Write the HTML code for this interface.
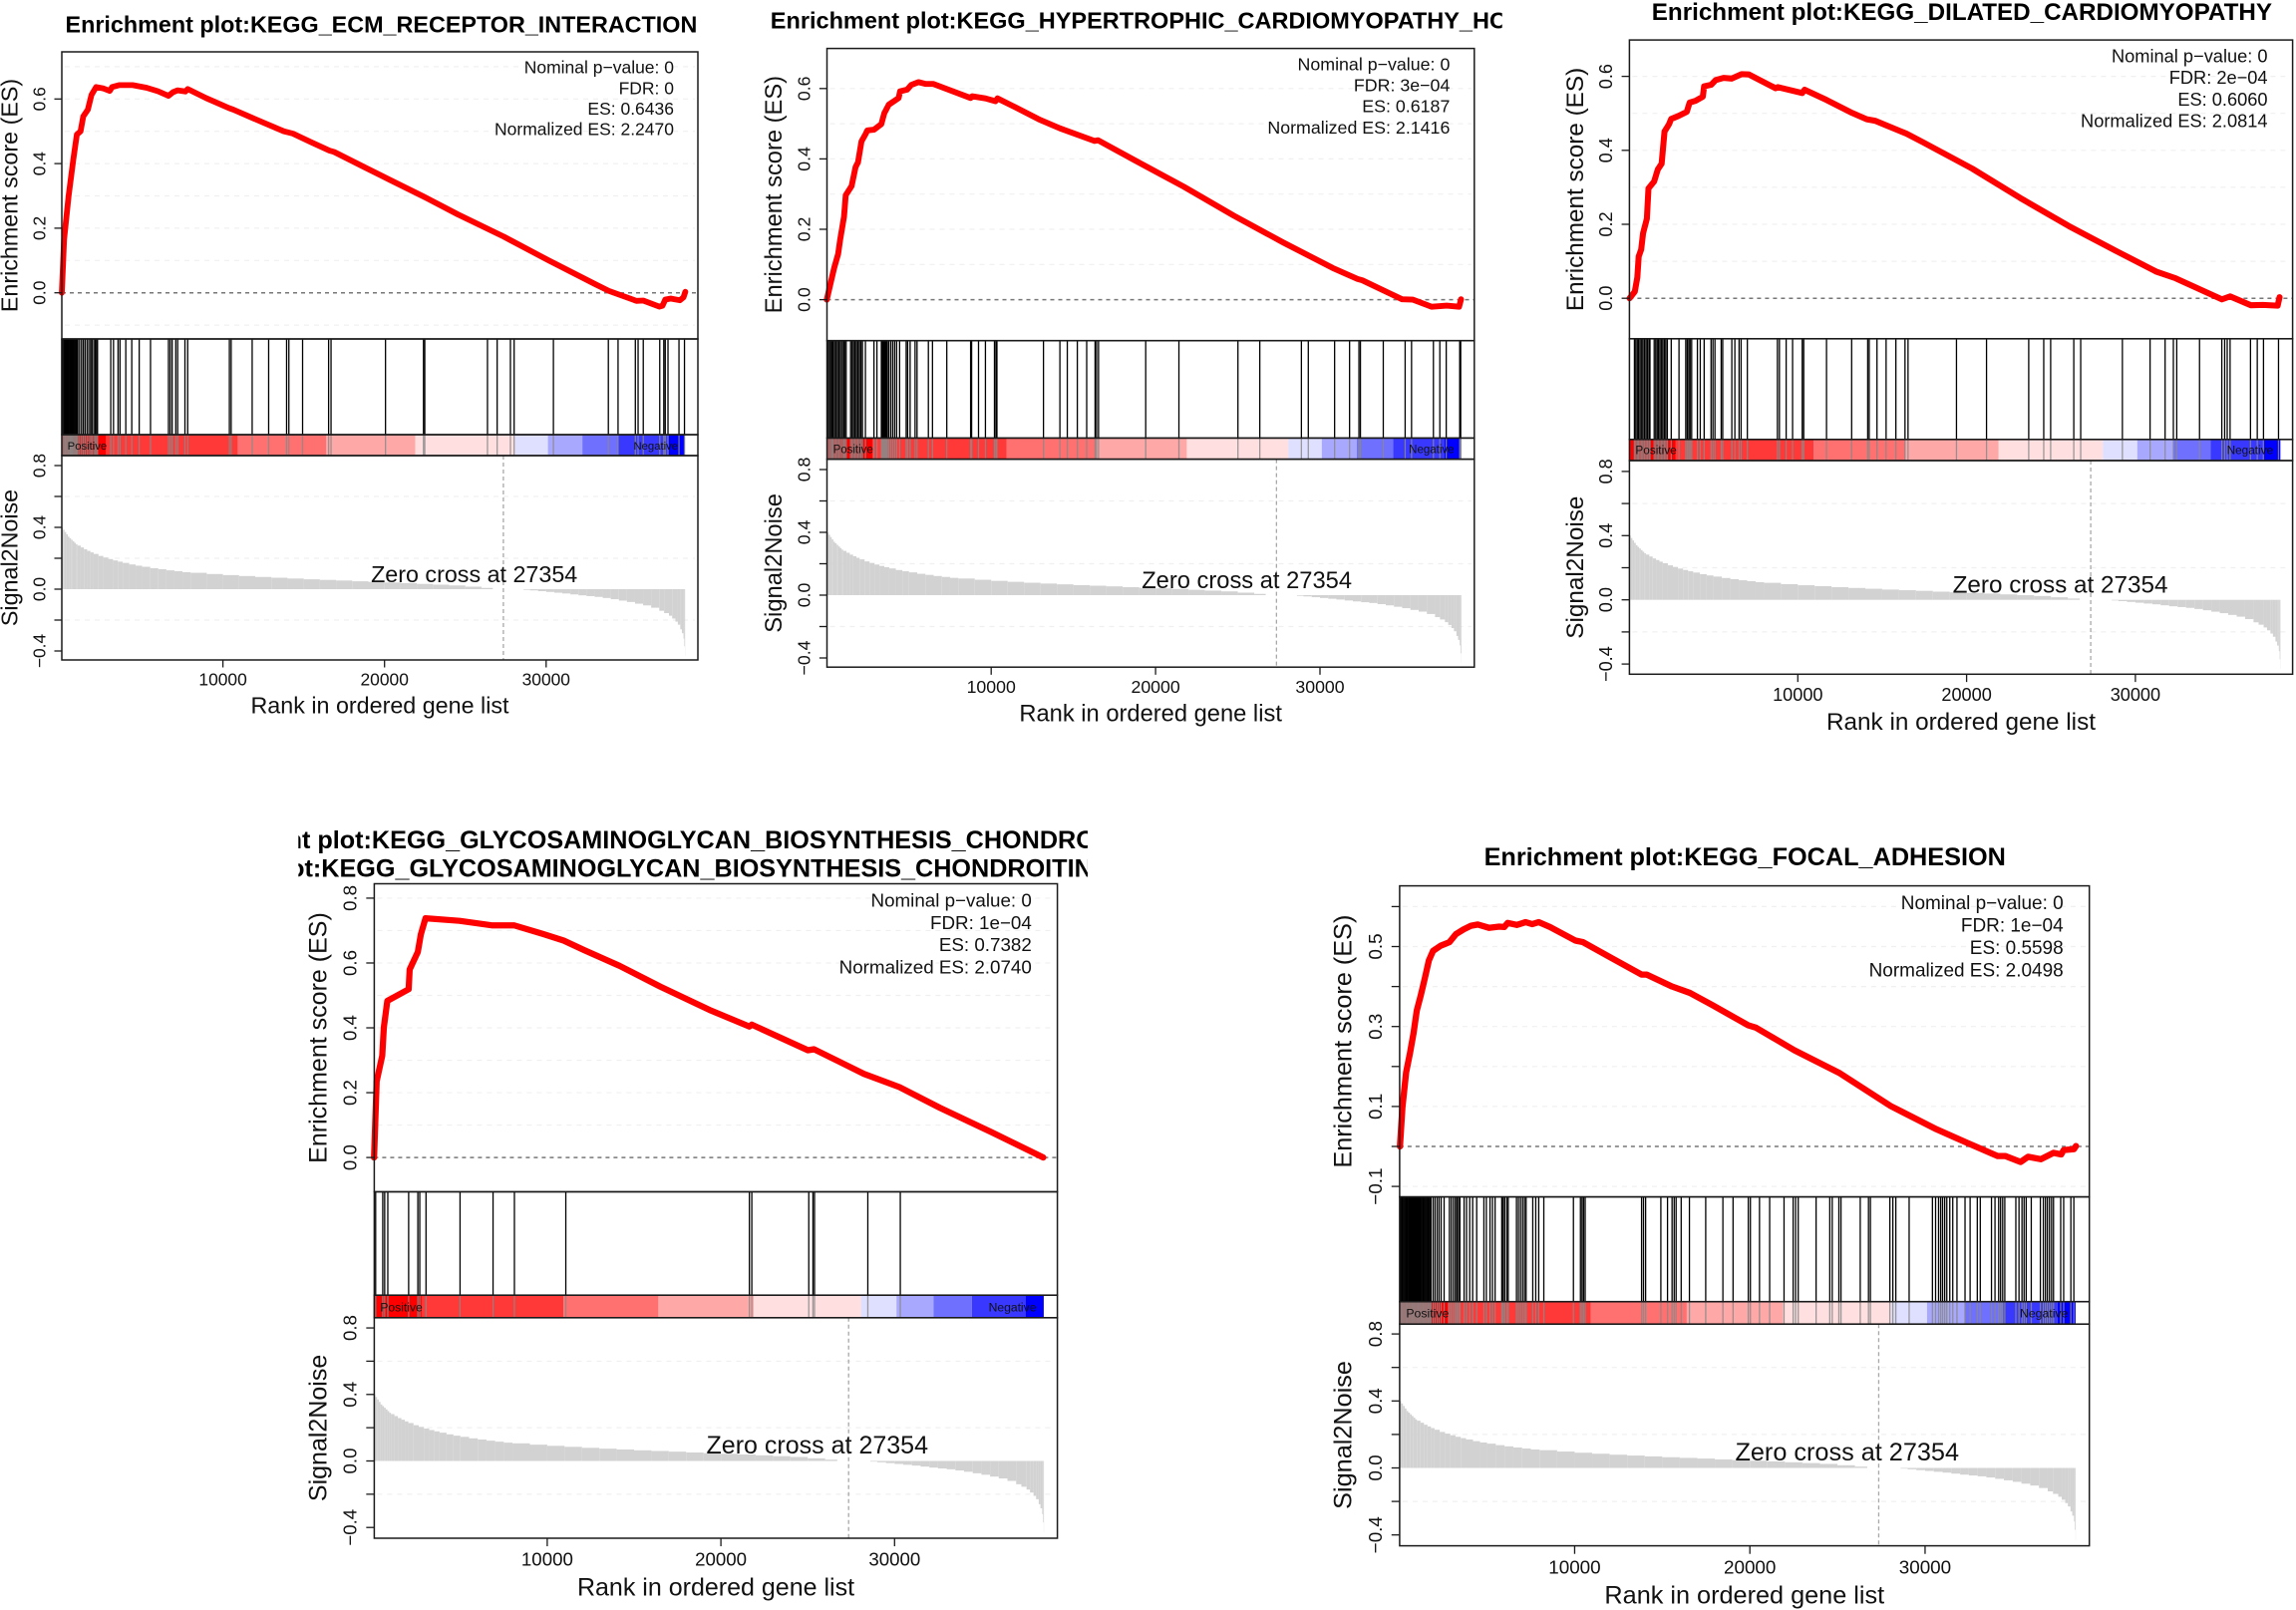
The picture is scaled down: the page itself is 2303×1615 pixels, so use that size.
<!DOCTYPE html>
<html>
<head>
<meta charset="utf-8">
<title>GSEA enrichment plots</title>
<style>
html,body{margin:0;padding:0;background:#fff;}
svg{display:block;}
text{font-family:"Liberation Sans",Arial,sans-serif;fill:#111;}
.title{font-weight:bold;fill:#000;}
</style>
</head>
<body>
<svg id="figure" xmlns="http://www.w3.org/2000/svg" width="2303" height="1615" viewBox="0 0 2303 1615">
<defs>
<clipPath id="clip-title-2"><rect x="700" y="0" width="806.7" height="46"/></clipPath>
<clipPath id="clip-title-4"><rect x="299.3" y="825" width="791.7" height="60"/></clipPath>
</defs>
<rect x="0" y="0" width="2303" height="1615" fill="#fff"/>

<g id="panel-1">
<text class="title" x="65.5" y="32.7" font-size="23.35">Enrichment plot:KEGG_ECM_RECEPTOR_INTERACTION</text>
<text class="stat">Nominal p−value: 0</text>
<text class="stat">FDR: 0</text>
<text class="stat">ES: 0.6436</text>
<text class="stat">Normalized ES: 2.2470</text>
<text class="ylab-es">Enrichment score (ES)</text>
<text class="ylab-s2n">Signal2Noise</text>
<text class="xlab">Rank in ordered gene list</text>
<text class="zero">Zero cross at 27354</text>
<text class="pos">Positive</text>
<text class="neg">Negative</text>
</g>

<g id="panel-2">
<g clip-path="url(#clip-title-2)"><text class="title" x="772.8" y="28.3" font-size="23.5">Enrichment plot:KEGG_HYPERTROPHIC_CARDIOMYOPATHY_HCM</text></g>
<text class="stat">Nominal p−value: 0</text>
<text class="stat">FDR: 3e−04</text>
<text class="stat">ES: 0.6187</text>
<text class="stat">Normalized ES: 2.1416</text>
<text class="ylab-es">Enrichment score (ES)</text>
<text class="ylab-s2n">Signal2Noise</text>
<text class="xlab">Rank in ordered gene list</text>
<text class="zero">Zero cross at 27354</text>
<text class="pos">Positive</text>
<text class="neg">Negative</text>
</g>

<g id="panel-3">
<text class="title" x="1656.8" y="19.8" font-size="24.2">Enrichment plot:KEGG_DILATED_CARDIOMYOPATHY</text>
<text class="stat">Nominal p−value: 0</text>
<text class="stat">FDR: 2e−04</text>
<text class="stat">ES: 0.6060</text>
<text class="stat">Normalized ES: 2.0814</text>
<text class="ylab-es">Enrichment score (ES)</text>
<text class="ylab-s2n">Signal2Noise</text>
<text class="xlab">Rank in ordered gene list</text>
<text class="zero">Zero cross at 27354</text>
<text class="pos">Positive</text>
<text class="neg">Negative</text>
</g>

<g id="panel-4">
<g clip-path="url(#clip-title-4)">
<text class="title" x="172.8" y="851" font-size="25.2">Enrichment plot:KEGG_GLYCOSAMINOGLYCAN_BIOSYNTHESIS_CHONDROITIN_SULFATE</text>
<text class="title" x="122.2" y="879.3" font-size="25.2">Enrichment plot:KEGG_GLYCOSAMINOGLYCAN_BIOSYNTHESIS_CHONDROITIN_SULFATE</text>
</g>
<text class="stat">Nominal p−value: 0</text>
<text class="stat">FDR: 1e−04</text>
<text class="stat">ES: 0.7382</text>
<text class="stat">Normalized ES: 2.0740</text>
<text class="ylab-es">Enrichment score (ES)</text>
<text class="ylab-s2n">Signal2Noise</text>
<text class="xlab">Rank in ordered gene list</text>
<text class="zero">Zero cross at 27354</text>
<text class="pos">Positive</text>
<text class="neg">Negative</text>
</g>

<g id="panel-5">
<text class="title" x="1488.6" y="868" font-size="25.26">Enrichment plot:KEGG_FOCAL_ADHESION</text>
<text class="stat">Nominal p−value: 0</text>
<text class="stat">FDR: 1e−04</text>
<text class="stat">ES: 0.5598</text>
<text class="stat">Normalized ES: 2.0498</text>
<text class="ylab-es">Enrichment score (ES)</text>
<text class="ylab-s2n">Signal2Noise</text>
<text class="xlab">Rank in ordered gene list</text>
<text class="zero">Zero cross at 27354</text>
<text class="pos">Positive</text>
<text class="neg">Negative</text>
</g>
</svg>

<script>
// ---- Data ----
const rankTicks = [10000, 20000, 30000];
const rankTickLabels = ["10000", "20000", "30000"];
const zeroCrossRank = 27354;
const zeroCrossLabelRank = 25550;
const lastRank = 38590;

const s2nTicks = [-0.4, -0.2, 0, 0.2, 0.4, 0.6, 0.8];
const s2nLabelValues = [-0.4, 0, 0.4, 0.8];
const s2nLabels = ["−0.4", "0.0", "0.4", "0.8"];
const s2nGrid = [-0.2, 0.2, 0.6];

const s2nRanks = [0,100,200,300,400,500,600,700,800,900,1000,1200,1400,1600,1800,2000,2300,2600,2900,3200,3500,3800,4200,4600,5000,5500,6000,6500,7000,7500,8000,9000,10000,11000,12000,13000,14000,15000,16000,17000,18000,19000,20000,21000,22000,23000,24000,25000,26000,26700,27354,28600,29000,29500,30000,30500,31000,31500,32000,32500,33000,33500,34000,34500,35000,35500,36000,36500,37000,37300,37600,37800,38000,38150,38300,38400,38500,38550,38590];
const s2nValues = [0.40,0.385,0.37,0.355,0.34,0.33,0.32,0.31,0.30,0.29,0.282,0.27,0.258,0.248,0.238,0.228,0.215,0.205,0.195,0.186,0.178,0.17,0.16,0.152,0.145,0.136,0.129,0.122,0.116,0.11,0.106,0.098,0.091,0.085,0.079,0.074,0.069,0.064,0.06,0.056,0.051,0.047,0.043,0.039,0.034,0.029,0.024,0.016,0.008,0,0,-0.004,-0.008,-0.013,-0.018,-0.023,-0.028,-0.034,-0.04,-0.045,-0.05,-0.057,-0.065,-0.074,-0.083,-0.094,-0.105,-0.12,-0.14,-0.155,-0.172,-0.19,-0.21,-0.23,-0.26,-0.285,-0.32,-0.37,-0.43];

const colorBreaks = [0,2770,10930,16400,21900,28070,30110,32240,34450,37560,38590];
const colorBins = ["#ff0000","#ff3838","#ff7070","#ffa8a8","#ffdfdf","#dfdfff","#a8a8ff","#7070ff","#3838ff","#0000ff"];

// Panel 1
const es1Ranks = [30,170,450,740,960,1190,1360,1640,1870,2150,2580,3000,3140,3570,4420,5270,5980,6630,6910,7200,7680,7820,8950,10370,10650,12070,13770,14330,15470,16600,16880,18870,20280,22410,22690,24530,27370,30200,33030,33880,35580,36010,37000,37200,37370,37710,38270,38500,38610];
const es1Scores = [0,0.166,0.299,0.412,0.490,0.500,0.546,0.567,0.613,0.637,0.633,0.625,0.637,0.643,0.643,0.635,0.624,0.610,0.621,0.627,0.623,0.631,0.603,0.572,0.567,0.536,0.500,0.493,0.466,0.440,0.436,0.386,0.351,0.298,0.291,0.243,0.174,0.099,0.027,0.006,-0.025,-0.024,-0.043,-0.040,-0.021,-0.018,-0.023,-0.014,0.003];
const hits1 = [30,90,170,230,280,340,400,450,510,560,600,640,680,730,790,850,910,960,1020,1130,1250,1360,1470,1590,1700,1810,1900,2010,2100,2180,2240,3060,3230,3510,3630,3990,4360,4820,5520,6630,6740,6860,7080,7200,7650,7820,10400,10510,11810,12830,13940,14080,14930,16540,16690,20060,22410,22490,26370,26970,27790,28020,30450,33850,34450,35520,35690,36010,37030,37280,37370,37540,38220,38560];
const esTicks1 = [0,0.2,0.4,0.6];
const esTickLabels1 = ["0.0","0.2","0.4","0.6"];
const esLabelValues1 = [0,0.2,0.4,0.6];
const esGrid1 = [-0.1,0.1,0.2,0.3,0.4,0.5,0.6,0.7];

// Panel 2
const es2Ranks = [0,240,450,690,810,1050,1150,1510,1750,1900,2110,2350,2470,2870,3320,3500,3770,4370,4460,4890,5130,5580,6030,6490,7390,8750,8840,9650,10260,10380,11460,12970,14180,16290,16500,18700,21720,24740,27750,30770,32280,32580,34990,35660,36800,37710,38460,38580];
const es2Scores = [0,0.049,0.090,0.130,0.170,0.236,0.297,0.323,0.377,0.390,0.450,0.470,0.481,0.483,0.499,0.530,0.554,0.573,0.592,0.597,0.610,0.618,0.613,0.613,0.597,0.573,0.578,0.572,0.564,0.572,0.547,0.511,0.487,0.451,0.453,0.397,0.321,0.239,0.163,0.090,0.059,0.055,0.001,0,-0.020,-0.017,-0.020,0.001];
const hits2 = [90,180,270,330,390,480,570,660,750,840,940,1030,1090,1180,1450,1540,1630,1720,1810,1900,1990,2080,2170,2350,2870,3050,3320,3380,3440,3500,3560,3620,3680,3770,3890,4010,4130,4250,4430,4830,4920,5070,5370,5490,6180,6430,7300,8750,8810,9230,9650,10200,10290,10350,13180,14180,14630,15240,15810,16320,16410,16530,19400,21420,25010,26340,28870,29290,30890,31800,32370,32460,33850,35180,35570,36900,37290,37680,38500,38560];
const esTicks2 = [0,0.2,0.4,0.6];
const esTickLabels2 = ["0.0","0.2","0.4","0.6"];
const esLabelValues2 = [0,0.2,0.4,0.6];
const esGrid2 = [0.1,0.2,0.3,0.4,0.5,0.6];

// Panel 3
const es3Ranks = [30,340,490,570,720,830,1060,1150,1490,1700,1930,2100,2360,2500,2930,3420,3590,3940,4370,4450,4860,5140,5600,6090,6670,7100,8680,8820,10260,10400,11700,13130,14080,14570,16440,17450,20320,23190,26070,28940,31240,32390,35120,35610,36840,37560,38430,38540];
const es3Scores = [0,0.018,0.056,0.113,0.132,0.176,0.215,0.297,0.316,0.348,0.364,0.451,0.470,0.485,0.493,0.504,0.529,0.534,0.545,0.573,0.577,0.590,0.596,0.594,0.606,0.605,0.568,0.571,0.555,0.564,0.536,0.503,0.484,0.480,0.445,0.421,0.351,0.271,0.195,0.126,0.072,0.054,-0.003,0.005,-0.019,-0.018,-0.020,0.003];
const hits3 = [320,400,490,570,660,750,830,920,1010,1090,1180,1240,1490,1580,1670,1750,1840,1930,2010,2100,2180,2270,2500,2960,3360,3450,3540,3620,3710,4050,4220,4450,4860,4970,5090,5460,5550,6090,6270,6520,6640,7010,8790,8910,9310,9690,10260,10350,11700,13190,14140,14230,14690,15230,15810,16350,16530,19400,21180,23680,24570,24980,26350,26760,29230,30870,31760,32250,32450,33800,35120,35290,35440,35610,36820,37220,37590,38480];
const esTicks3 = [0,0.2,0.4,0.6];
const esTickLabels3 = ["0.0","0.2","0.4","0.6"];
const esLabelValues3 = [0,0.2,0.4,0.6];
const esGrid3 = [0.1,0.2,0.3,0.4,0.5,0.6];

// Panel 4
const es4Ranks = [30,180,500,590,790,2020,2080,2550,2720,2990,4950,6850,8110,9780,10950,12120,14170,16510,19440,21640,21780,25010,25360,26760,28230,30280,32620,35550,38560];
const es4Scores = [0,0.235,0.314,0.401,0.483,0.519,0.580,0.634,0.688,0.738,0.730,0.716,0.716,0.689,0.669,0.640,0.591,0.527,0.453,0.404,0.410,0.331,0.334,0.297,0.258,0.217,0.153,0.079,0];
const hits4 = [120,530,640,820,2020,2550,2660,3020,4980,6880,8110,11070,21640,21780,25060,25300,25390,28460,30330];
const esTicks4 = [0,0.2,0.4,0.6,0.8];
const esTickLabels4 = ["0.0","0.2","0.4","0.6","0.8"];
const esLabelValues4 = [0,0.2,0.4,0.6,0.8];
const esGrid4 = [0.1,0.2,0.3,0.4,0.5,0.6,0.7,0.8];

// Panel 5
const es5Ranks = [30,170,380,610,810,990,1220,1450,1680,1920,2350,2850,3220,3660,4090,4470,5110,5690,5980,6180,6710,7200,7580,7950,8590,10040,10480,12080,13820,14110,15560,16580,17880,19910,20350,22530,25140,28040,30650,32400,34140,34570,35450,35880,36610,37330,37770,37910,38490,38610];
const es5Scores = [0,0.098,0.185,0.235,0.284,0.340,0.378,0.421,0.465,0.489,0.502,0.511,0.531,0.543,0.552,0.555,0.547,0.550,0.549,0.559,0.554,0.561,0.556,0.561,0.549,0.515,0.511,0.472,0.430,0.430,0.400,0.384,0.353,0.303,0.297,0.241,0.183,0.101,0.043,0.009,-0.024,-0.024,-0.039,-0.026,-0.032,-0.016,-0.020,-0.009,-0.007,0.001];
const hits5 = [60,120,170,230,290,350,410,460,520,580,640,700,750,810,870,930,990,1050,1100,1160,1220,1280,1340,1390,1450,1510,1570,1630,1680,1740,1800,1920,2030,2150,2260,2380,2550,2850,2960,3080,3190,3280,3370,3450,3690,3830,4010,4180,4410,4820,4960,5170,5310,5460,5840,5920,6010,6130,6210,6680,6790,6910,7030,7140,7230,7610,7780,7950,8240,9930,10330,10420,10510,10600,13820,13930,14050,14920,15300,15560,15680,15790,16080,16550,17480,18460,19040,19910,20030,20550,21130,21950,22470,22610,22760,23780,24560,24700,25080,25200,26300,26770,26880,27990,28160,28330,29090,30420,30600,30770,30890,31000,31120,31240,31410,31580,31820,32280,32570,32980,33150,33790,33990,34200,34310,34430,34550,35180,35360,35530,35650,35770,36060,36580,36750,36870,36980,37100,37220,37330,37740,37910,38320,38490];
const esTicks5 = [-0.1,0,0.1,0.2,0.3,0.4,0.5,0.6];
const esTickLabels5 = ["−0.1","0.1","0.3","0.5"];
const esLabelValues5 = [-0.1,0.1,0.3,0.5];
const esGrid5 = [-0.1,0.1,0.2,0.3,0.4,0.5,0.6];

// ---- Layout (pixels) ----
const layouts = [
 {left:62,right:700,top:52,esBottom:340,hitBottom:436,barBottom:457,bottom:662,x0:61.5,xPer10k:162.1,esZero:293.7,esUnit:324,s2nZero:591,s2nUnit:155},
 {left:829.5,right:1478.8,top:48.6,esBottom:341.7,hitBottom:439.4,barBottom:460.6,bottom:669.2,x0:829.3,xPer10k:164.9,esZero:300.6,esUnit:353,s2nZero:597,s2nUnit:157.5},
 {left:1634.4,right:2299.6,top:40.1,esBottom:339.8,hitBottom:440.8,barBottom:462,bottom:676.3,x0:1634,xPer10k:169.3,esZero:299.2,esUnit:371,s2nZero:601.7,s2nUnit:161},
 {left:375.4,right:1060.6,top:886.5,esBottom:1195.5,hitBottom:1299.2,barBottom:1321.8,bottom:1543,x0:374.7,xPer10k:174.2,esZero:1161.1,esUnit:325.2,s2nZero:1465.5,s2nUnit:166.8},
 {left:1403.9,right:2095.7,top:888.6,esBottom:1200.6,hitBottom:1305.7,barBottom:1328.2,bottom:1550.6,x0:1403.7,xPer10k:175.75,esZero:1150,esUnit:401,s2nZero:1472.5,s2nUnit:168}
];
const esRanksAll = [es1Ranks,es2Ranks,es3Ranks,es4Ranks,es5Ranks];
const esScoresAll = [es1Scores,es2Scores,es3Scores,es4Scores,es5Scores];
const hitsAll = [hits1,hits2,hits3,hits4,hits5];
const esTicksAll = [esTicks1,esTicks2,esTicks3,esTicks4,esTicks5];
const esLabelValuesAll = [esLabelValues1,esLabelValues2,esLabelValues3,esLabelValues4,esLabelValues5];
const esTickLabelsAll = [esTickLabels1,esTickLabels2,esTickLabels3,esTickLabels4,esTickLabels5];
const esGridAll = [esGrid1,esGrid2,esGrid3,esGrid4,esGrid5];

const NS = "http://www.w3.org/2000/svg";
function make(tag, attrs) {
  const el = document.createElementNS(NS, tag);
  for (const k in attrs) el.setAttribute(k, attrs[k]);
  return el;
}
function placeText(el, x, y, size, anchor, rotate) {
  el.setAttribute("x", x);
  el.setAttribute("y", y);
  el.setAttribute("font-size", size);
  el.setAttribute("text-anchor", anchor);
  if (rotate) el.setAttribute("transform", "rotate(-90 " + x + " " + y + ")");
}

function drawPanel(i) {
  const L = layouts[i];
  const root = document.getElementById("panel-" + (i + 1));
  const s = (L.right - L.left) / 638;
  const xScale = r => L.x0 + r / 10000 * L.xPer10k;
  const esY = v => L.esZero - v * L.esUnit;
  const s2nY = v => L.s2nZero - v * L.s2nUnit;
  const marks = make("g", {});
  
  
  root.insertBefore(marks, root.firstChild);

  // colour bar
  for (let c = 0; c < colorBins.length; c++) {
    const x1 = xScale(colorBreaks[c]), x2 = xScale(colorBreaks[c + 1]);
    const seg = make("rect", {x:x1, y:L.hitBottom, width:x2 - x1, height:L.barBottom - L.hitBottom, fill:colorBins[c]});
    
    
    marks.appendChild(seg);
  }

  // ES grid
  esGridAll[i].forEach(v => {
    const g = make("line", {x1:L.left + 3, x2:L.right - 3, y1:esY(v), y2:esY(v), stroke:"#f0f0f0", "stroke-width":1.2, "stroke-dasharray":"5 5"});
    
    
    marks.appendChild(g);
  });
  // S2N grid
  s2nGrid.forEach(v => {
    const g = make("line", {x1:L.left + 3, x2:L.right - 3, y1:s2nY(v), y2:s2nY(v), stroke:"#f0f0f0", "stroke-width":1.2, "stroke-dasharray":"5 5"});
    
    
    marks.appendChild(g);
  });

  // ES zero line
  const zeroLine = make("line", {x1:L.left, x2:L.right, y1:esY(0), y2:esY(0), stroke:"#777", "stroke-width":1.5, "stroke-dasharray":"4 4"});
  
  
  marks.appendChild(zeroLine);

  // hit lines
  hitsAll[i].forEach(r => {
    const h = make("line", {x1:xScale(r), x2:xScale(r), y1:L.esBottom, y2:L.hitBottom, stroke:"#000", "stroke-width":1.3});
    
    
    marks.appendChild(h);
    const o = make("line", {x1:xScale(r), x2:xScale(r), y1:L.hitBottom, y2:L.barBottom, stroke:"#8a8a8a", "stroke-width":1.3, "stroke-opacity":0.85});
    
    
    marks.appendChild(o);
  });

  // S2N bars
  for (let k = 0; k < s2nRanks.length; k++) {
    const v = s2nValues[k];
    const r2 = k + 1 < s2nRanks.length ? s2nRanks[k + 1] : lastRank + 10;
    const x1 = xScale(s2nRanks[k]), x2 = xScale(r2);
    const y1 = Math.min(s2nY(v), s2nY(0)), y2 = Math.max(s2nY(v), s2nY(0));
    const b = make("rect", {x:x1, y:y1, width:x2 - x1, height:y2 - y1, fill:"#d2d2d2"});
    
    
    marks.appendChild(b);
  }

  // zero-cross line
  const zc = make("line", {x1:xScale(zeroCrossRank), x2:xScale(zeroCrossRank), y1:L.barBottom, y2:L.bottom, stroke:"#a8a8a8", "stroke-width":1.3, "stroke-dasharray":"4 3"});
  
  
  marks.appendChild(zc);

  // ES curve
  const ranks = esRanksAll[i], scores = esScoresAll[i];
  let d = "";
  for (let k = 0; k < ranks.length; k++) d += (k ? "L" : "M") + xScale(ranks[k]).toFixed(1) + " " + esY(scores[k]).toFixed(1);
  const curve = make("path", {d:d, fill:"none", stroke:"#ff0000", "stroke-width":5.8 * s, "stroke-linejoin":"round", "stroke-linecap":"round"});
  
  
  marks.appendChild(curve);

  // frames
  [[L.top, L.esBottom], [L.esBottom, L.hitBottom], [L.hitBottom, L.barBottom], [L.barBottom, L.bottom]].forEach(f => {
    const fr = make("rect", {x:L.left, y:f[0], width:L.right - L.left, height:f[1] - f[0], fill:"none", stroke:"#1a1a1a", "stroke-width":1.5});
    
    
    marks.appendChild(fr);
  });

  const tickLen = 7.5 * s, tickFont = 17.4 * s;

  // x axis
  rankTicks.forEach((r, k) => {
    const t = make("line", {x1:xScale(r), x2:xScale(r), y1:L.bottom, y2:L.bottom + tickLen, stroke:"#1a1a1a", "stroke-width":1.3});
    
    
    marks.appendChild(t);
    const lab = make("text", {});
    
    
    lab.textContent = rankTickLabels[k];
    placeText(lab, xScale(r), L.bottom + 25.5 * s, tickFont, "middle", false);
    marks.appendChild(lab);
  });

  // ES axis
  esTicksAll[i].forEach(v => {
    const t = make("line", {x1:L.left - tickLen, x2:L.left, y1:esY(v), y2:esY(v), stroke:"#1a1a1a", "stroke-width":1.3});
    
    
    marks.appendChild(t);
  });
  esLabelValuesAll[i].forEach((v, k) => {
    const lab = make("text", {});
    
    
    lab.textContent = esTickLabelsAll[i][k];
    placeText(lab, L.left - 16.5 * s, esY(v), tickFont, "middle", true);
    marks.appendChild(lab);
  });

  // S2N axis
  s2nTicks.forEach(v => {
    const t = make("line", {x1:L.left - tickLen, x2:L.left, y1:s2nY(v), y2:s2nY(v), stroke:"#1a1a1a", "stroke-width":1.3});
    
    
    marks.appendChild(t);
  });
  s2nLabelValues.forEach((v, k) => {
    const lab = make("text", {});
    
    
    lab.textContent = s2nLabels[k];
    placeText(lab, L.left - 16.5 * s, s2nY(v), tickFont, "middle", true);
    marks.appendChild(lab);
  });

  // static text placement
  root.querySelectorAll(".stat").forEach((el, k) => {
    placeText(el, L.right - 24 * s, L.top + 21.6 * s + k * 20.7 * s, 17.5 * s, "end", false);
  });
  const axisFont = 23.3 * s, yBase = L.left - 44.5 * s;
  placeText(root.querySelector(".ylab-es"), yBase, (L.top + L.esBottom) / 2, axisFont, "middle", true);
  placeText(root.querySelector(".ylab-s2n"), yBase, (L.barBottom + L.bottom) / 2, axisFont, "middle", true);
  placeText(root.querySelector(".xlab"), (L.left + L.right) / 2, L.bottom + 53.6 * s, axisFont, "middle", false);
  placeText(root.querySelector(".zero"), xScale(zeroCrossLabelRank), L.s2nZero - 7 * s, axisFont, "middle", false);
  placeText(root.querySelector(".pos"), xScale(380), L.barBottom - 6 * s, 11.3 * s, "start", false);
  placeText(root.querySelector(".neg"), xScale(38160), L.barBottom - 6 * s, 11.3 * s, "end", false);
  root.appendChild(root.querySelector(".pos"));
  root.appendChild(root.querySelector(".neg"));
}

for (let i = 0; i < layouts.length; i++) drawPanel(i);
</script>
</body>
</html>
